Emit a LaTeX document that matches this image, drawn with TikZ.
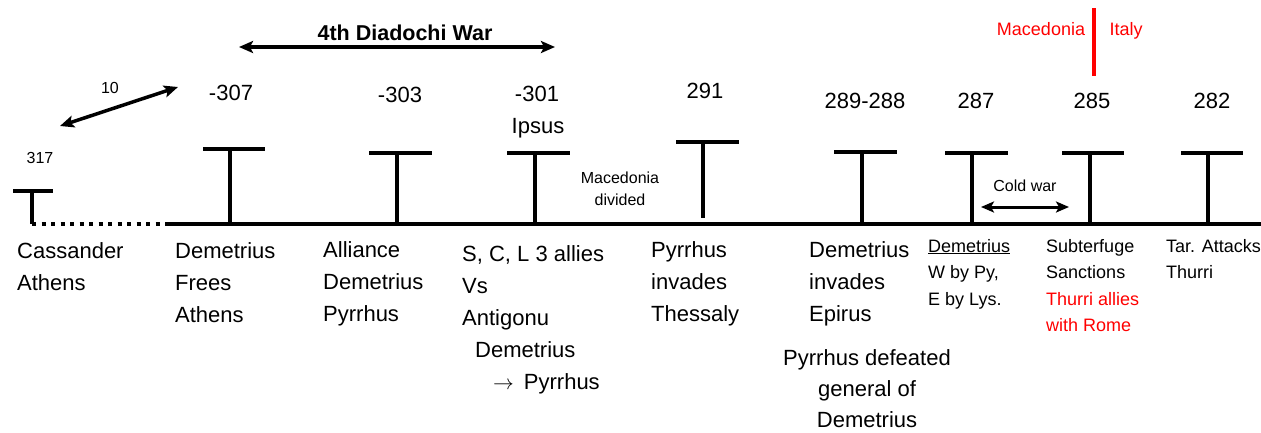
\documentclass[tikz,border=0pt]{standalone}
\usepackage{fontspec}
\setmainfont{Liberation Sans}
\usetikzlibrary{arrows.meta}
\definecolor{linered}{RGB}{255,0,0}

\tikzset{
    axis/.style={line width=4pt},
    tbar/.style={line width=4.5pt},
    tstem/.style={line width=4pt},
    span/.style={line width=3.5pt, {Stealth[length=14pt,width=12pt,inset=3pt]}-{Stealth[length=14pt,width=12pt,inset=3pt]}},
    year/.style={anchor=base, inner sep=0pt, font=\fontsize{22}{26}\selectfont},
    event/.style={anchor=base west, inner sep=0pt, align=left, font=\fontsize{22}{31.8}\selectfont},
    note/.style={anchor=base west, inner sep=0pt, align=left, font=\fontsize{18}{26.5}\selectfont},
    small/.style={anchor=base, inner sep=0pt, align=center, font=\fontsize{16}{22}\selectfont},
}

\begin{document}
\begin{tikzpicture}[x=1pt, y=-1pt]
    \useasboundingbox (0,0) rectangle (1261,432);

    % Timeline
    \coordinate (start) at (32,224);
    \coordinate (solid) at (165,224);
    \coordinate (end) at (1261,224);
    \draw[axis, dash pattern=on 4pt off 5.5pt] (start) -- (solid);
    \draw[axis] (solid) -- (end);

    % Year markers
    \coordinate (m317) at (32,191);
    \coordinate (m307) at (230,149);
    \coordinate (m303) at (397,153);
    \coordinate (m301) at (535,153);
    \coordinate (m291) at (703,142);
    \coordinate (m289) at (862,152);
    \coordinate (m287) at (972,153);
    \coordinate (m285) at (1090,153);
    \coordinate (m282) at (1208,153);
    \coordinate (s291) at (703,218);

    \draw[tstem] (m317) -- (m317 |- start);
    \draw[tbar] ([xshift=-19pt]m317) -- ([xshift=21pt]m317);
    \draw[tstem] (m307) -- (m307 |- start);
    \draw[tbar] ([xshift=-27pt]m307) -- ([xshift=35pt]m307);
    \draw[tstem] (m303) -- (m303 |- start);
    \draw[tbar] ([xshift=-28pt]m303) -- ([xshift=35pt]m303);
    \draw[tstem] (m301) -- (m301 |- start);
    \draw[tbar] ([xshift=-28pt]m301) -- ([xshift=35pt]m301);
    \draw[tstem] (m291) -- (s291);
    \draw[tbar] ([xshift=-27pt]m291) -- ([xshift=36pt]m291);
    \draw[tstem] (m289) -- (m289 |- start);
    \draw[tbar] ([xshift=-28pt]m289) -- ([xshift=35pt]m289);
    \draw[tstem] (m287) -- (m287 |- start);
    \draw[tbar] ([xshift=-27pt]m287) -- ([xshift=36pt]m287);
    \draw[tstem] (m285) -- (m285 |- start);
    \draw[tbar] ([xshift=-28pt]m285) -- ([xshift=34pt]m285);
    \draw[tstem] (m282) -- (m282 |- start);
    \draw[tbar] ([xshift=-27pt]m282) -- ([xshift=35pt]m282);

    % Years
    \node[small] (y317) at (40,163) {317};
    \node[year] (y307) at (231,100) {-307};
    \node[year] (y303) at (400,102) {-303};
    \node[year] (y301) at (537,101) {-301};
    \node[year] (ipsus) at (538,133) {Ipsus};
    \node[year] (y291) at (705,98) {291};
    \node[year] (y289) at (865,108) {289-288};
    \node[year] (y287) at (976,108) {287};
    \node[year] (y285) at (1092,108) {285};
    \node[year] (y282) at (1212,108) {282};

    % Spans
    \coordinate (tenL) at (60,126);
    \coordinate (tenR) at (178,87);
    \draw[span] (tenL) -- (tenR);
    \node[small] (ten) at (110,93) {10};

    \coordinate (warL) at (239,47);
    \coordinate (warR) at (555,47);
    \draw[span] (warL) -- (warR);
    \node[anchor=base, inner sep=0pt, font=\fontsize{21.5}{26}\selectfont\bfseries] (war) at (405,40) {4th Diadochi War};

    \coordinate (coldL) at (981,207);
    \coordinate (coldR) at (1069,207);
    \draw[line width=3pt, {Stealth[length=13pt,width=11pt,inset=3pt]}-{Stealth[length=13pt,width=11pt,inset=3pt]}] (coldL) -- (coldR);
    \node[small] (cold) at (1025,191) {Cold war};

    % base of a multi-line node is its last line
    \node[small] (divided) at (620,205) {Macedonia\\divided};

    % Macedonia / Italy split
    \coordinate (splitTop) at (1094,8);
    \coordinate (splitBot) at (1094,76);
    \draw[line width=3.5pt, linered] (splitTop) -- (splitBot);
    \node[anchor=base, inner sep=0pt, text=linered, font=\fontsize{18}{22}\selectfont] (mac) at (1041,35) {Macedonia};
    \node[anchor=base, inner sep=0pt, text=linered, font=\fontsize{18}{22}\selectfont] (italy) at (1126,35) {Italy};

    % Events
    \node[event] (e317) at (17,290) {Cassander\\Athens};
    \node[event] (e307) at (175,322) {Demetrius\\Frees\\Athens};
    \node[event] (e303) at (323,321) {Alliance\\Demetrius\\Pyrrhus};
    \node[event] (e301) at (462,389) {S, C, L 3 allies\\Vs\\Antigonu\\\hspace*{13pt}Demetrius\\\hspace*{31pt}$\rightarrow$\hspace{10pt}Pyrrhus};
    \node[event] (e291) at (651,321) {Pyrrhus\\invades\\Thessaly};
    \node[event] (e289) at (809,321) {Demetrius\\invades\\Epirus};
    \node[event, anchor=base, align=center, font=\fontsize{22}{31}\selectfont] (e288) at (867,427) {Pyrrhus defeated\\general of\\Demetrius};
    \node[note] (e287) at (928,305) {\underline{Demetrius}\\W by Py,\\E by Lys.};
    \node[note] (e285) at (1046,331.5) {Subterfuge\\Sanctions\\\textcolor{linered}{Thurri allies}\\\textcolor{linered}{with Rome}};
    \node[note] (e282) at (1166,278.5) {Tar. Attacks\\Thurri};
\end{tikzpicture}
\end{document}
